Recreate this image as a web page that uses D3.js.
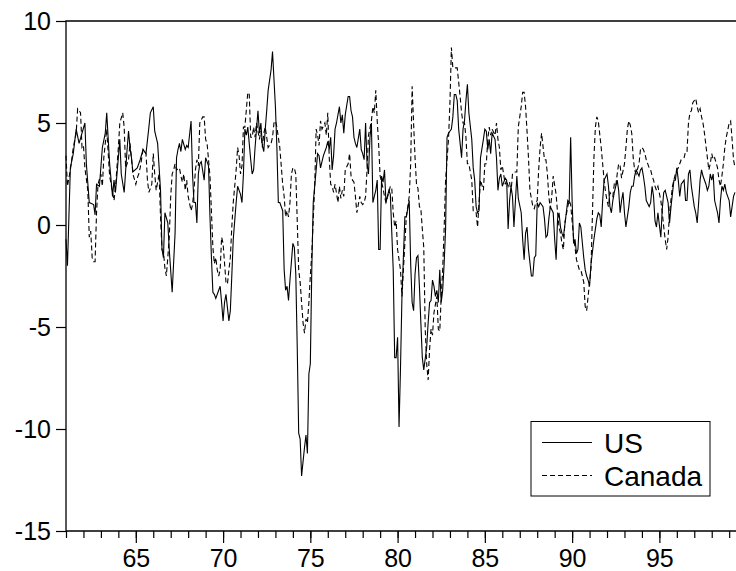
<!DOCTYPE html>
<html>
<head>
<meta charset="utf-8">
<script src="https://cdn.jsdelivr.net/npm/d3@7/dist/d3.min.js"></script>
<style>
	body { margin: 0; background: #fff; }
	svg { display: block; font-family: "Liberation Sans", Arial, sans-serif; }
</style>
</head>
<body>
<div id="chart"></div>
<script>
// monthly observations, [months since Jan 1961, value]
var usObs = [
	[0,-0.7],[1,-2.0],[3,2.8],[5,3.5],[7,4.7],[9,4.0],[13,5.0],[14,3.0],[16,1.1],[19,1.0],[20,0.5],[21,2.0],[23,1.9],[25,3.8],[27,4.5],[28,5.5],[30,3.0],[32,1.4],[33,2.2],[34,1.6],[36,3.3],[37,4.2],[38,2.5],[40,1.6],[42,3.7],[43,4.6],[44,3.8],[45,3.3],[46,2.6],[49,2.8],[51,3.2],[53,3.7],[55,3.5],[57,4.8],[58,5.5],[60,5.8],[61,4.6],[63,4.0],[65,1.7],[66,-1.2],[67,-1.6],[68,0.6],[70,0.1],[71,-1.2],[73,-3.3],[75,-0.4],[76,3.3],[77,3.7],
	[78,4.0],[79,3.6],[80,4.2],[82,3.7],[83,3.9],[84,3.8],[86,5.1],[87,2.5],[88,1.1],[89,1.1],[90,0.1],[91,2.5],[92,3.0],[93,3.1],[95,2.2],[96,3.3],[98,2.9],[99,0.4],[100,-1.6],[101,-3.3],[102,-3.4],[103,-3.6],[105,-3.2],[106,-3.0],[107,-3.8],[108,-4.7],[109,-3.8],[110,-3.4],[112,-4.7],[113,-4.2],[114,-2.5],[115,-0.7],[116,0.2],[117,1.1],[118,1.9],[120,1.5],[121,1.1],[122,2.5],[123,4.7],[124,4.4],[125,4.8],[127,3.2],[128,2.5],[129,2.7],[130,3.8],[132,5.6],[133,4.5],[134,5.0],[135,3.9],[136,3.6],[137,4.7],[138,5.6],[139,6.6],[140,7.1],[141,7.6],[142,8.5],[144,5.8],[145,3.8],[146,1.1],[147,1.1],[149,0.7],[150,-2.2],[151,-3.2],[152,-3.0],[153,-3.7],[154,-2.7],[156,-0.9],[157,-1.1],[158,-2.4],
	[159,-6.0],[160,-10.2],[161,-10.5],[162,-12.3],[164,-10.9],[165,-10.3],[166,-11.2],[167,-7.3],[168,-6.8],[169,-2.2],[170,1.1],[172,2.7],[173,3.5],[174,3.4],[175,2.8],[177,3.4],[179,3.8],[180,4.1],[181,3.7],[182,4.3],[183,2.7],[184,3.4],[185,4.7],[186,5.0],[188,5.8],[189,5.0],[190,5.4],[191,4.5],[192,5.4],[194,6.3],[195,6.3],[196,5.6],[197,5.3],[198,4.3],[199,4.0],[200,3.8],[202,4.7],[203,3.7],[204,3.5],[205,3.2],[206,5.0],[207,3.0],[208,2.5],[209,4.3],[210,5.0],[211,1.1],[212,1.4],[213,1.7],[214,2.2],[215,-1.2],[216,-1.2],[217,2.4],[218,2.1],[219,2.7],[220,1.1],[221,1.4],[222,1.7],[223,1.5],[225,-2.2],[226,-6.5],[227,-6.5],[228,-5.5],[229,-9.9],[230,-7.0],[231,-3.5],
	[233,0.4],[234,0.4],[236,1.2],[237,-1.9],[238,-3.8],[239,-4.2],[240,-2.4],[241,-1.6],[242,-1.5],[243,-3.0],[244,-4.8],[245,-6.5],[246,-7.1],[248,-6.0],[249,-4.8],[250,-3.8],[251,-3.7],[252,-2.7],[253,-3.0],[254,-3.5],[255,-3.2],[256,-3.8],[257,-2.2],[258,-3.8],[259,-3.2],[260,-1.9],[261,-0.2],[262,4.3],[263,4.5],[265,4.7],[266,5.3],[267,6.4],[268,6.4],[269,6.1],[270,4.7],[272,3.3],[273,4.7],[274,5.1],[275,6.1],[276,6.9],[277,5.5],[279,4.2],[280,2.8],[281,2.2],[282,0.9],[283,0.6],[284,0.7],[285,3.3],[287,4.2],[288,4.7],[289,4.6],[290,3.7],[291,4.2],[292,3.5],[293,4.5],[295,4.2],[296,3.3],[297,1.7],[298,2.3],[299,2.5],[300,1.9],[302,2.3],[303,2.2],[304,-0.2],[305,1.2],[306,1.9],[307,1.4],[308,-0.1],
	[310,2.4],[311,1.3],[313,0.6],[314,-0.7],[315,-1.7],[316,-0.4],[317,-0.1],[318,-1.2],[320,-2.5],[321,-2.5],[322,-1.6],[323,-1.5],[324,1.1],[325,0.9],[326,1.1],[328,0.9],[329,0.3],[330,-0.6],[331,-0.5],[332,0.3],[333,0.9],[335,0.6],[336,-0.7],[337,-1.7],[338,0.3],[339,0.6],[340,-0.1],[341,-0.4],[342,-0.6],[344,0.6],[345,1.2],[346,1.1],[347,4.3],[348,1.2],[349,-0.9],[350,-0.7],[351,-1.4],[352,-1.2],[353,0.1],[354,-0.1],[356,-1.6],[357,-2.2],[358,-2.5],[359,-2.7],[360,-3.0],[361,-1.9],[363,-0.7],[364,-0.2],[365,0.3],[366,0.6],[367,0.5],[368,-0.1],[369,1.2],[370,2.2],[372,2.5],[373,1.9],[374,0.9],[375,0.6],[376,1.2],[377,1.6],[379,2.2],[380,1.7],[381,0.6],[382,1.2],[383,1.6],[384,0.6],[385,-0.1],
	[387,0.9],[388,1.6],[389,1.9],[390,1.9],[391,2.4],[392,2.7],[394,2.4],[395,2.7],[396,2.8],[397,2.4],[398,1.9],[399,1.2],[401,0.9],[402,1.1],[403,1.9],[404,1.4],[405,0.2],[406,-0.1],[407,0.6],[409,-0.6],[410,0.8],[411,1.6],[412,1.7],[413,1.4],[414,1.1],[415,0.1],[416,0.9],[418,2.2],[419,2.2],[420,2.8],[421,2.2],[422,1.4],[423,2.0],[425,2.2],[426,1.2],[427,1.2],[428,2.5],[429,2.7],[430,1.9],[432,0.9],[433,0.6],[434,0.1],[435,1.1],[436,2.2],[437,2.7],[438,2.4],[440,2.0],[441,1.7],[442,1.9],[443,2.5],[444,2.2],[445,2.5],[446,1.2],[448,0.6],[449,0.1],[450,1.2],[451,1.9],[452,1.7],[453,2.0],[454,1.6],[456,1.2],[457,0.4],[458,0.9],[459,1.4],[460,1.6]
];

var canadaObs = [
	[0,3.4],[1,1.9],[3,2.7],[5,3.8],[7,4.5],[8,5.7],[10,5.5],[11,3.8],[12,3.9],[13,2.8],[15,1.7],[16,-0.6],[17,-0.3],[18,-1.6],[19,-1.8],[20,-1.8],[21,0.6],[22,2.0],[24,2.5],[25,1.9],[26,3.3],[28,4.7],[30,2.4],[33,1.2],[34,1.8],[36,3.8],[37,5.0],[39,5.5],[40,4.8],[41,2.8],[43,3.2],[44,4.0],[45,3.3],[46,2.5],[48,2.0],[49,2.3],[50,2.5],[51,2.8],[53,3.7],[55,3.5],[56,2.2],[57,1.6],[59,2.0],[60,3.5],[61,2.5],[62,1.7],[64,2.5],[65,0.4],[66,-1.2],[67,-1.3],[68,-2.1],[69,-2.5],[70,-1.6],[71,-0.6],[72,1.4],[73,2.5],[74,2.7],[75,3.0],[76,2.7],
	[78,2.8],[79,2.4],[80,2.1],[81,2.5],[82,1.7],[83,2.2],[84,1.4],[86,0.7],[87,1.0],[88,1.7],[89,2.7],[90,3.2],[91,2.9],[92,5.0],[94,5.3],[95,5.3],[96,4.2],[97,4.0],[98,3.2],[99,2.4],[101,-1.1],[102,-1.9],[103,-1.6],[104,-2.2],[105,-2.5],[106,-2.2],[107,-0.6],[108,-0.9],[110,-2.8],[111,-2.9],[112,-2.2],[113,-1.6],[114,-0.1],[115,1.1],[117,2.7],[118,3.8],[119,3.4],[120,2.5],[121,2.9],[122,4.8],[123,4.8],[125,6.5],[126,6.4],[127,4.3],[128,4.3],[129,4.8],[130,4.3],[131,5.0],[133,4.2],[134,4.6],[135,3.8],[136,4.5],[137,4.8],[138,4.3],[139,3.8],[141,4.0],[142,4.3],[143,5.0],[144,5.1],[145,4.8],[146,4.3],[147,3.8],[149,2.0],[150,1.4],[151,0.4],[152,0.7],[153,0.4],[154,1.1],[155,2.5],
	[156,2.8],[157,2.8],[158,2.5],[159,0.2],[160,-2.2],[161,-2.8],[163,-4.8],[164,-5.3],[165,-4.6],[166,-4.8],[167,-3.8],[168,-2.5],[169,-1.4],[171,1.9],[172,4.7],[173,4.4],[174,3.9],[175,5.1],[176,4.7],[178,5.0],[179,4.4],[180,5.5],[181,3.3],[182,2.0],[183,1.9],[184,1.6],[185,2.0],[187,1.1],[188,1.9],[189,1.3],[190,1.7],[191,1.4],[192,2.7],[194,3.0],[195,3.5],[196,2.4],[197,2.2],[198,2.1],[199,1.4],[200,0.6],[202,1.4],[203,1.1],[204,1.0],[205,1.1],[206,1.4],[207,2.7],[208,4.4],[210,5.1],[211,5.8],[212,5.5],[213,6.6],[214,5.1],[215,3.9],[216,2.4],[217,2.1],[218,1.8],[219,1.4],[220,1.1],[222,1.6],[223,1.9],[224,1.8],[225,0.6],[226,-0.1],[227,0.2],[228,-1.2],[230,-2.2],[231,-3.5],
	[234,0.4],[236,1.4],[237,3.0],[238,6.8],[239,5.0],[240,3.3],[241,2.0],[242,1.8],[243,0.9],[244,0.8],[245,-0.2],[246,-1.1],[247,-5.1],[248,-6.8],[249,-7.6],[250,-6.1],[251,-5.1],[252,-5.4],[253,-4.3],[255,-3.5],[256,-5.1],[257,-5.2],[258,-3.5],[259,-2.2],[260,-0.2],[261,2.2],[263,4.2],[264,6.0],[265,8.7],[266,7.7],[267,7.7],[268,7.7],[269,7.7],[271,6.3],[272,5.5],[273,5.0],[274,5.0],[275,4.3],[276,3.0],[277,3.0],[279,2.2],[280,0.7],[281,0.7],[282,0.6],[283,-0.1],[284,1.1],[285,2.2],[287,1.7],[288,3.0],[289,3.0],[290,4.2],[291,4.8],[292,4.4],[293,4.7],[295,4.4],[296,5.0],[297,4.2],[298,3.8],[299,2.7],[300,2.9],[302,2.0],[303,2.2],[304,1.9],[305,2.1],[306,1.6],[307,2.5],[308,2.6],
	[310,2.6],[311,4.8],[313,5.8],[314,6.5],[315,6.5],[316,5.8],[317,4.6],[318,3.3],[319,1.7],[321,0.9],[322,0.8],[323,1.1],[324,1.2],[325,2.7],[326,3.8],[327,4.5],[329,3.2],[330,3.2],[331,2.5],[332,1.4],[333,0.8],[334,1.4],[335,2.4],[337,1.5],[338,0.6],[339,-0.1],[340,-0.4],[341,-0.9],[342,-1.2],[343,0.1],[345,0.9],[346,1.2],[347,1.0],[348,0.2],[349,-0.6],[350,-1.1],[351,-1.7],[353,-2.2],[354,-2.2],[355,-2.5],[356,-2.8],[357,-4.0],[358,-4.2],[359,-3.5],[361,-2.1],[362,0.6],[363,3.3],[364,4.8],[365,5.3],[366,5.1],[368,3.8],[369,3.0],[370,2.2],[371,1.6],[372,1.2],[373,0.9],[374,1.6],[376,1.4],[377,2.0],[378,1.9],[379,2.5],[380,3.0],[381,2.9],[382,2.3],[384,3.0],[385,3.8],[386,4.7],
	[387,5.1],[388,4.9],[389,4.5],[390,3.3],[391,2.7],[392,2.5],[394,3.0],[395,3.7],[396,3.8],[397,3.7],[398,3.5],[399,3.2],[401,2.8],[402,2.7],[403,2.4],[404,2.2],[405,1.9],[406,1.7],[407,1.9],[409,1.2],[410,0.6],[411,-0.1],[412,-0.7],[413,-1.2],[414,-0.6],[415,0.6],[417,1.9],[418,2.2],[419,2.5],[420,2.7],[421,2.8],[422,3.0],[423,3.2],[425,3.3],[426,3.6],[427,3.6],[428,5.0],[429,5.5],[430,5.6],[431,6.0],[433,6.2],[434,5.8],[435,5.5],[436,5.7],[437,5.3],[438,5.0],[439,4.5],[441,3.3],[442,2.7],[443,3.0],[444,3.5],[445,3.2],[446,3.3],[448,2.8],[449,2.2],[450,1.9],[451,2.4],[452,3.0],[453,3.8],[454,4.3],[456,5.0],[457,5.1],[458,4.2],[459,3.2],[460,2.8]
];

var seriesNames = ["US", "Canada"];
var startYear = 1961, endYear = 1999, lastMonth = 460;
var yTicks = [-15, -10, -5, 0, 5, 10];
var labelYears = [1965, 1970, 1975, 1980, 1985, 1990, 1995];

(function() {
	var width = 736, height = 571,
		plotLeft = 66, plotRight = 735, plotTop = 21, plotBottom = 531;

	var svg = d3.select("#chart").append("svg")
		.attr("width", width)
		.attr("height", height);

	var x = d3.scaleLinear().domain([0, lastMonth]).range([plotLeft, plotRight]);
	var y = d3.scaleLinear().domain([-15, 10]).range([plotBottom, plotTop]);

	function monthOf(year) { return (year - startYear) * 12; }

	// minor year ticks
	var allYears = d3.range(startYear, endYear + 1);
	svg.append("g")
		.attr("transform", "translate(0," + plotBottom + ")")
		.call(d3.axisBottom(x).tickValues(allYears.map(monthOf)).tickSize(7).tickSizeOuter(0).tickFormat(""))
		.call(function(g) { g.select(".domain").remove(); });

	// labelled ticks, two-digit years
	svg.append("g")
		.attr("class", "xaxis")
		.attr("transform", "translate(0," + plotBottom + ")")
		.call(d3.axisBottom(x).tickValues(labelYears.map(monthOf)).tickSize(12).tickPadding(6).tickSizeOuter(0)
			.tickFormat(function(d) { return String((startYear + d / 12) % 100); }))
		.call(function(g) { g.select(".domain").remove(); });

	// plain hyphen for negatives, as in the original
	svg.append("g")
		.attr("class", "yaxis")
		.attr("transform", "translate(" + plotLeft + ",0)")
		.call(d3.axisLeft(y).tickValues(yTicks).tickSize(10).tickPadding(5).tickSizeOuter(0)
			.tickFormat(function(d) { return String(d); }))
		.call(function(g) { g.select(".domain").remove(); });

	svg.selectAll(".tick line").attr("stroke", "#000").attr("stroke-width", 1.2);
	svg.selectAll(".xaxis text, .yaxis text")
		.attr("fill", "#000")
		.style("font-size", "25px")
		.style("font-family", "'Liberation Sans', Arial, sans-serif");

	// frame
	svg.append("path")
		.attr("d", "M" + (width + 2) + "," + plotTop + "H" + plotLeft + "V" + plotBottom + "H" + (width + 2))
		.attr("fill", "none")
		.attr("stroke", "#000")
		.attr("stroke-width", 1.3);

	var line = d3.line()
		.x(function(d) { return x(d[0]); })
		.y(function(d) { return y(d[1]); });

	svg.append("path")
		.datum(canadaObs)
		.attr("d", line)
		.attr("fill", "none")
		.attr("stroke", "#000")
		.attr("stroke-width", 1.1)
		.attr("stroke-dasharray", "5,3");

	svg.append("path")
		.datum(usObs)
		.attr("d", line)
		.attr("fill", "none")
		.attr("stroke", "#000")
		.attr("stroke-width", 1.1);

	// legend
	var legend = svg.append("g").attr("transform", "translate(531,421.5)");
	legend.append("rect")
		.attr("width", 179).attr("height", 74.5)
		.attr("fill", "#fff").attr("stroke", "#000").attr("stroke-width", 1);

	var item = legend.selectAll(".item")
		.data(seriesNames)
		.enter().append("g")
		.attr("transform", function(d, i) { return "translate(0," + (21 + i * 33) + ")"; });

	item.append("line")
		.attr("x1", 11).attr("x2", 61)
		.attr("stroke", "#000").attr("stroke-width", 1)
		.attr("stroke-dasharray", function(d, i) { return i ? "5,3" : null; });

	item.append("text")
		.attr("x", 73).attr("y", 10)
		.style("font-size", "28px")
		.text(function(d) { return d; });
})();
</script>
</body>
</html>
